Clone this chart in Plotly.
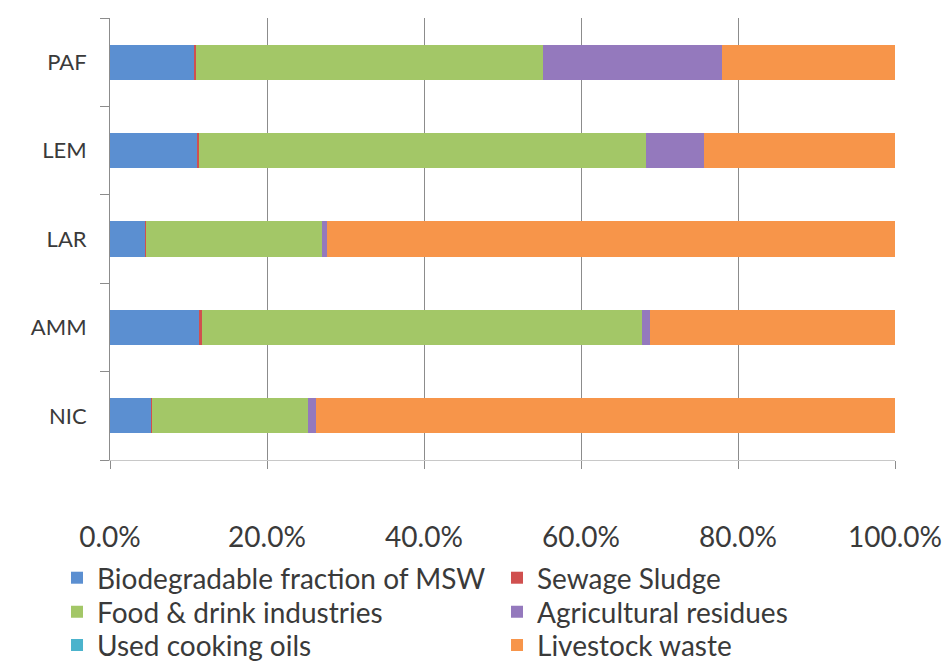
import plotly.graph_objects as go

categories = ["NIC", "AMM", "LAR", "LEM", "PAF"]
series_names = ["Biodegradable fraction of MSW", "Sewage Sludge", "Food & drink industries",
                "Agricultural residues", "Used cooking oils", "Livestock waste"]
# values in % per category (order matches categories)
msw = [5.3, 11.4, 4.5, 11.1, 10.8]
sewage = [0.1, 0.3, 0.1, 0.2, 0.2]
food = [19.8, 56.1, 22.4, 57.0, 44.2]
agri = [1.0, 1.0, 0.6, 7.4, 22.8]
oils = [0.0, 0.0, 0.0, 0.0, 0.0]
livestock = [73.8, 31.2, 72.4, 24.3, 22.0]
x_ticks = [0, 20, 40, 60, 80, 100]
x_tick_labels = ["0.0%", "20.0%", "40.0%", "60.0%", "80.0%", "100.0%"]

colors = ["#5b8fd1", "#d0504f", "#a3c767", "#9479bd", "#4bb3cc", "#f7954a"]
values = [msw, sewage, food, agri, oils, livestock]
legend_ids = ["legend", "legend", "legend2", "legend2", "legend3", "legend3"]

fig = go.Figure()
for name, vals, col, lg in zip(series_names, values, colors, legend_ids):
    fig.add_trace(go.Bar(y=categories, x=vals, name=name, orientation="h", legend=lg,
                         marker=dict(color=col, line=dict(width=0))))

txt = "#3a3a3a"
leg_common = dict(orientation="h", x=-0.0675, xanchor="left", yanchor="middle",
                  entrywidth=395, entrywidthmode="pixels", traceorder="normal",
                  font=dict(size=28, color=txt, family="Lato"), bgcolor="rgba(0,0,0,0)")

fig.update_layout(
    barmode="stack",
    bargap=0.6,
    width=943, height=668,
    margin=dict(l=110, r=48, t=18, b=208, autoexpand=False),
    plot_bgcolor="white", paper_bgcolor="white",
    font=dict(family="Lato, Open Sans, sans-serif", size=28, color=txt),
    xaxis=dict(range=[0, 100], tickvals=x_ticks, ticktext=x_tick_labels,
               showgrid=True, gridcolor="#8c8c8c", gridwidth=1,
               showline=True, linecolor="#c8c8c8", zeroline=False,
               ticks="outside", ticklen=8, tickcolor="#8c8c8c",
               ticklabelstandoff=44, tickfont=dict(size=28, color=txt)),
    yaxis=dict(showline=True, linecolor="#8c8c8c", ticks="outside", tickson="boundaries",
               ticklen=9, tickcolor="#8c8c8c", showgrid=False, ticklabelstandoff=18,
               tickfont=dict(size=22, color=txt)),
    legend=dict(y=-0.267, **leg_common),
    legend2=dict(y=-0.344, **leg_common),
    legend3=dict(y=-0.419, **leg_common),
    showlegend=True,
)
fig.write_html("out.html")
